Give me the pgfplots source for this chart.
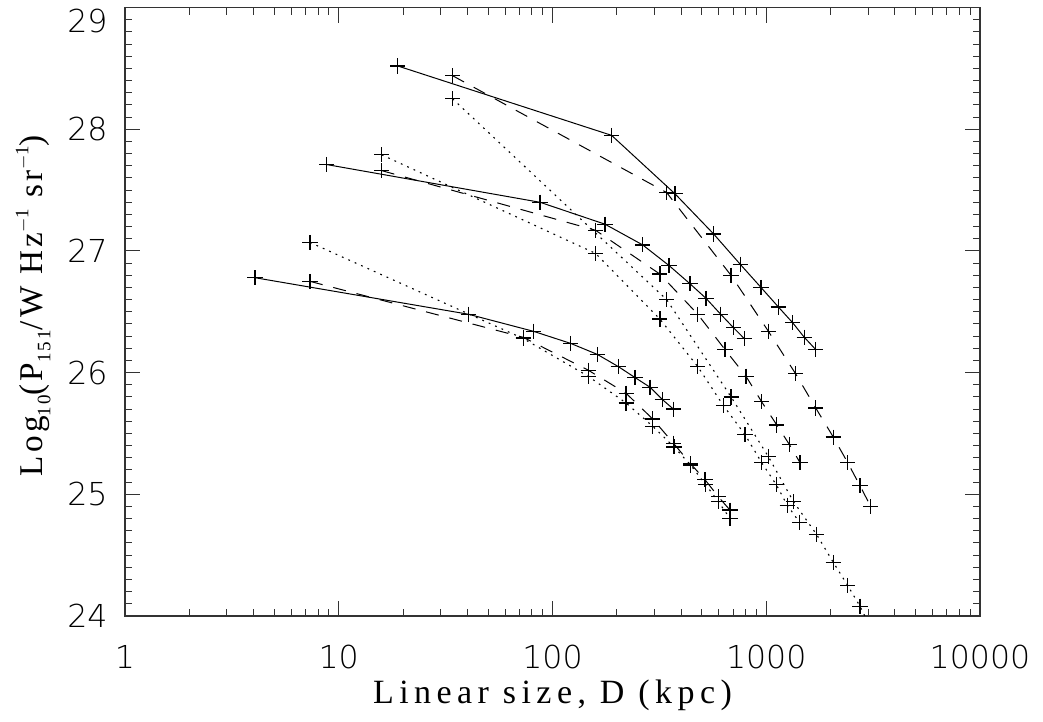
\documentclass[border=0pt]{standalone}
\usepackage{fontspec}
\usepackage{pgfplots}
\pgfplotsset{compat=1.18}
\newfontfamily\tickfont{DejaVu Sans ExtraLight}
\newfontfamily\labfont[LetterSpace=16]{Liberation Serif}
\newfontfamily\ylabfont[LetterSpace=10]{Liberation Serif}
\newcommand{\lsub}[1]{\raisebox{-4pt}{\fontsize{9.5}{10}\selectfont #1}}
\newcommand{\lsup}[1]{\raisebox{7pt}{\fontsize{9.5}{10}\selectfont #1}}

\begin{document}
\begin{tikzpicture}
\begin{axis}[
    scale only axis, width=427.5pt, height=304.2pt,
    xmode=log, xmin=1, xmax=10000, ymin=24, ymax=29,
    xtick={1,10,100,1000,10000}, xticklabels={1,10,100,1000,10000},
    ytick={24,25,26,27,28,29},
    yticklabels={24,25,26,27,28,{\raisebox{-6.7pt}[\height][\depth]{29}}},
    minor y tick num=9,
    major tick length=7.5pt, minor tick length=3.5pt,
    axis line style={line width=0.8pt, black!80},
    every tick/.style={line width=0.5pt, black!80},
    tick label style={font=\tickfont\fontsize{15.8}{16}\selectfont, inner sep=0pt},
    xticklabel style={anchor=north, yshift=-14.5pt},
    yticklabel style={anchor=east, xshift=-8.5pt},
    xlabel={\labfont\fontsize{17}{18}\selectfont Linear size, D (kpc)},
    ylabel={\ylabfont\fontsize{16.6}{18}\selectfont Log\lsub{10}(P\lsub{151}/W Hz\lsup{$-$1} sr\lsup{$-$1})},
    xlabel style={at={(axis description cs:0.5,-0.105)}, anchor=north, inner sep=0pt},
    ylabel style={at={(axis description cs:-0.0865,0.51)}, anchor=south, inner sep=0pt},
    clip=true,
    mark options={solid, line width=0.65pt},
]
% top group
\addplot[black, solid, line width=0.5pt, mark=+, mark size=3.8pt] coordinates {(18.9,28.52) (189,27.95) (374,27.47) (567,27.14) (756,26.89) (945,26.70) (1139,26.54) (1329,26.41) (1507,26.29) (1703,26.19)};
\addplot[black, dash pattern=on 6.5pt off 5.5pt, line width=0.5pt, mark=+, mark size=3.8pt] coordinates {(34.1,28.44) (342,27.48) (684,26.80) (1023,26.34) (1373,25.99) (1703,25.71) (2060,25.47) (2405,25.26) (2746,25.07) (3081,24.90)};
\addplot[black, dash pattern=on 0.9pt off 2.6pt, line width=0.55pt, mark=+, mark size=3.8pt] coordinates {(34.1,28.25) (342,26.60) (685,25.80) (1023,25.31) (1340,24.94) (1720,24.67) (2060,24.44) (2405,24.25) (2746,24.08) (3081,23.90)};
% middle group
\addplot[black, solid, line width=0.5pt, mark=+, mark size=3.8pt] coordinates {(8.78,27.71) (87.4,27.40) (176,27.22) (264,27.05) (351,26.88) (440,26.73) (523,26.61) (612,26.48) (702,26.37) (789,26.28)};
\addplot[black, dash pattern=on 6.5pt off 5.5pt, line width=0.5pt, mark=+, mark size=3.8pt] coordinates {(15.9,27.66) (159,27.17) (318,26.81) (478,26.48) (641,26.19) (804,25.97) (952,25.76) (1120,25.57) (1282,25.41) (1439,25.26)};
\addplot[black, dash pattern=on 0.9pt off 2.6pt, line width=0.55pt, mark=+, mark size=3.8pt] coordinates {(15.9,27.79) (159,26.98) (318,26.44) (478,26.05) (630,25.73) (796,25.49) (952,25.26) (1113,25.08) (1255,24.91) (1431,24.77)};
% bottom group
\addplot[black, solid, line width=0.5pt, mark=+, mark size=3.8pt] coordinates {(4.06,26.78) (40.4,26.48) (81.3,26.34) (121.7,26.24) (162,26.15) (203,26.05) (243,25.96) (286,25.88) (326,25.78) (368,25.70)};
\addplot[black, dash pattern=on 6.5pt off 5.5pt, line width=0.5pt, mark=+, mark size=3.8pt] coordinates {(7.34,26.75) (73,26.29) (147,26.02) (221,25.83) (294,25.62) (368,25.42) (443,25.25) (517,25.12) (597,24.98) (677,24.87)};
\addplot[black, dash pattern=on 0.9pt off 2.6pt, line width=0.55pt, mark=+, mark size=3.8pt] coordinates {(7.34,27.07) (73,26.28) (147,25.97) (221,25.75) (294,25.56) (370,25.39) (443,25.24) (520,25.08) (597,24.94) (677,24.80)};
\end{axis}
\pgfresetboundingbox
\path[use as bounding box] ([xshift=-62.5pt,yshift=-53pt]current axis.south west) rectangle ([xshift=31.5pt,yshift=3.8pt]current axis.north east);
\end{tikzpicture}
\end{document}
